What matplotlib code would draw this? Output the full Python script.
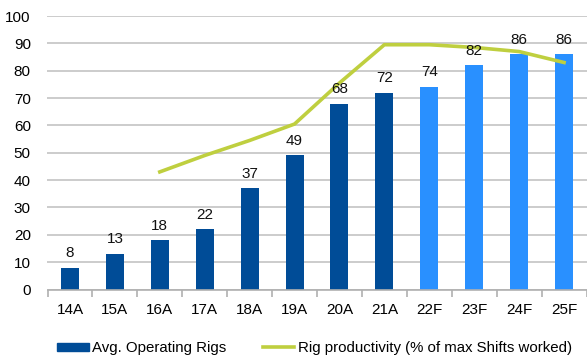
import numpy as np
import matplotlib.pyplot as plt
from matplotlib.lines import Line2D
from matplotlib.patches import Patch

years = ["14A", "15A", "16A", "17A", "18A", "19A", "20A", "21A", "22F", "23F", "24F", "25F"]
rigs = [8, 13, 18, 22, 37, 49, 68, 72, 74, 82, 86, 86]
productivity = [np.nan, np.nan, 43, 49, 54.5, 60.5, 75.5, 89.5, 89.5, 88.5, 87, 83]
n_actual = 8

dark_blue = "#004C97"
light_blue = "#2990FF"
green = "#BFCF3F"


def main():
    plt.rcParams["font.family"] = ["Liberation Sans", "DejaVu Sans"]
    fig = plt.figure(figsize=(5.87, 3.56), dpi=100)
    ax = fig.add_axes([47.5 / 587, 1 - 289.5 / 356, 539 / 587, 273.5 / 356])

    x = np.arange(len(years))
    colors = [dark_blue] * n_actual + [light_blue] * (len(years) - n_actual)
    ax.bar(x, rigs, width=0.4, color=colors, zorder=2)
    for xi, v in zip(x, rigs):
        ax.text(xi, v + 2.8, str(v), ha="center", va="bottom", fontsize=11,
                color="#111111", zorder=4)

    ax.plot(x, productivity, color=green, lw=2.6, zorder=3, solid_joinstyle="miter")

    ax.set_xlim(-0.5, len(years) - 0.5)
    ax.set_ylim(0, 100)
    ax.set_yticks(range(0, 101, 10))
    ax.yaxis.grid(True, color="#C4C4C4", lw=1.2, zorder=0)
    ax.set_axisbelow(True)
    for s in ["top", "right", "left"]:
        ax.spines[s].set_visible(False)
    ax.spines["bottom"].set_color("#B0B0B0")
    ax.spines["bottom"].set_linewidth(1.2)
    ax.tick_params(axis="y", length=0, labelsize=11, pad=12)

    # category labels centred, tick marks on the boundaries
    ax.set_xticks(x)
    ax.set_xticklabels(years, fontsize=11)
    ax.tick_params(axis="x", which="major", length=0, pad=10)
    ax.set_xticks(np.arange(-0.5, len(years)), minor=True)
    ax.tick_params(axis="x", which="minor", length=5, color="#B0B0B0", width=1.2)

    handles = [
        Patch(color=dark_blue),
        Line2D([], [], color=green, lw=2.6),
    ]
    labels = ["Avg. Operating Rigs", "Rig productivity (% of max Shifts worked)"]
    fig.legend(handles, labels, loc="center left", bbox_to_anchor=(57 / 587, 1 - 348 / 356),
               ncol=2, frameon=False, fontsize=10.8, handlelength=2.1, handleheight=0.45,
               handletextpad=0.25, columnspacing=2.4, borderpad=0, borderaxespad=0)

    fig.savefig("out.png", dpi=100)


if __name__ == "__main__":
    main()
